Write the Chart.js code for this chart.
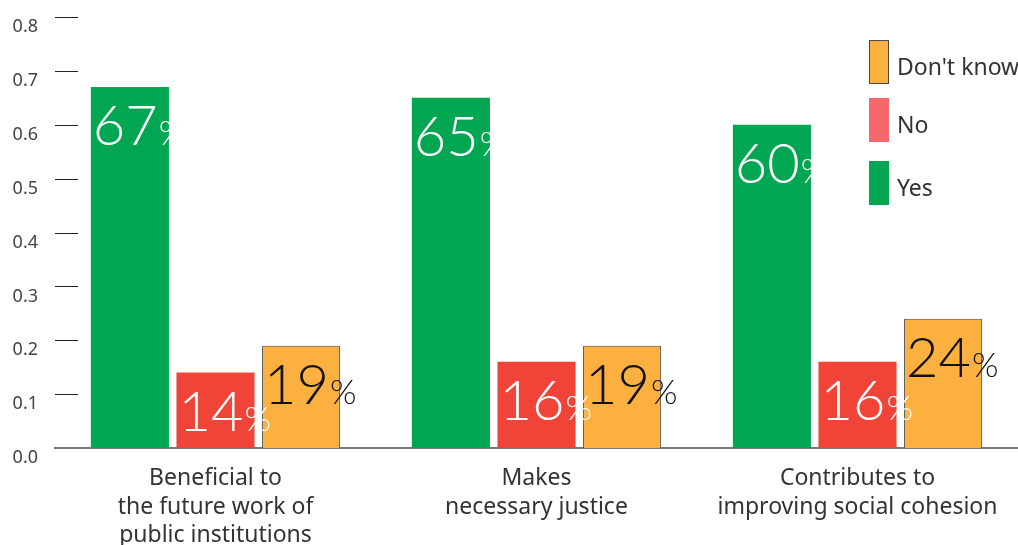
<!DOCTYPE html>
<html>
<head>
<meta charset="utf-8">
<title>Survey results</title>
<script src="https://cdn.jsdelivr.net/npm/chart.js@4.4.1/dist/chart.umd.min.js"></script>
<style>
  html, body { margin: 0; padding: 0; background: #fff; }
  #chart { display: block; }
</style>
</head>
<body>
<canvas id="chart" width="1018" height="545"></canvas>
<script>
// categories and answer shares
const categories = [
    ['Beneficial to', 'the future work of', 'public institutions'],
    ['Makes', 'necessary justice'],
    ['Contributes to', 'improving social cohesion']
];
const yesValues = [0.67, 0.65, 0.60];
const noValues = [0.14, 0.16, 0.16];
const dontKnowValues = [0.19, 0.19, 0.24];
const yTickValues = [0, 0.1, 0.2, 0.3, 0.4, 0.5, 0.6, 0.7, 0.8];

const FONT = '"Noto Sans", "DejaVu Sans", sans-serif';
const LIGHT_FONT = 'Lato, "Noto Sans", sans-serif';

// big percentage labels inside the top of each bar
const valueLabels = {
    id: 'valueLabels',
    afterDatasetsDraw(chart) {
        const ctx = chart.ctx;
        ctx.save();
        ctx.textBaseline = 'alphabetic';
        ctx.textAlign = 'left';
        chart.data.datasets.forEach((ds, i) => {
            const meta = chart.getDatasetMeta(i);
            meta.data.forEach((bar, j) => {
                const num = String(Math.round(ds.data[j] * 100));
                const left = bar.x - bar.width / 2 + 2;
                const baseY = bar.y + 58;
                ctx.fillStyle = ds.labelColor;
                ctx.font = '300 56px ' + LIGHT_FONT;
                ctx.fillText(num, left, baseY);
                const w = ctx.measureText(num).width;
                ctx.font = '300 34px ' + LIGHT_FONT;
                ctx.fillText('%', left + w + 1, baseY);
            });
        });
        ctx.restore();
    }
};

// short tick marks at the left of the plot area
const tickMarks = {
    id: 'tickMarks',
    afterDraw(chart) {
        const ctx = chart.ctx;
        const y = chart.scales.y;
        const left = chart.chartArea.left;
        ctx.save();
        ctx.strokeStyle = '#222';
        ctx.lineWidth = 1;
        yTickValues.slice(1).forEach(v => {
            const py = Math.round(y.getPixelForValue(v)) + 0.5;
            ctx.beginPath();
            ctx.moveTo(left, py);
            ctx.lineTo(left + 23, py);
            ctx.stroke();
        });
        ctx.restore();
    }
};

// vertical legend in the top right, listed in reverse order
const sideLegend = {
    id: 'sideLegend',
    afterDraw(chart) {
        const ctx = chart.ctx;
        const rows = [
            { ds: 2, top: 40 },
            { ds: 1, top: 98 },
            { ds: 0, top: 161 }
        ];
        ctx.save();
        rows.forEach(r => {
            const ds = chart.data.datasets[r.ds];
            ctx.fillStyle = ds.legendColor;
            ctx.fillRect(869, r.top, 20, 44);
            if (ds.borderWidth) {
                ctx.strokeStyle = ds.borderColor;
                ctx.lineWidth = 1;
                ctx.strokeRect(869.5, r.top + 0.5, 19, 43);
            }
            ctx.fillStyle = '#333';
            ctx.font = '23px ' + FONT;
            ctx.textBaseline = 'middle';
            ctx.fillText(ds.label, 897, r.top + 28);
        });
        ctx.restore();
    }
};

new Chart(document.getElementById('chart'), {
    type: 'bar',
    data: {
        labels: categories,
        datasets: [
            {
                label: 'Yes',
                data: yesValues,
                backgroundColor: '#00a651',
                legendColor: '#00a651',
                labelColor: '#ffffff',
                borderWidth: 0
            },
            {
                label: 'No',
                data: noValues,
                backgroundColor: '#f04438',
                legendColor: '#f2686b',
                labelColor: '#ffffff',
                borderWidth: 0
            },
            {
                label: "Don't know",
                data: dontKnowValues,
                backgroundColor: '#fbb040',
                legendColor: '#fbb040',
                borderColor: '#4a4a4a',
                borderWidth: 1,
                labelColor: '#111111'
            }
        ]
    },
    options: {
        responsive: false,
        animation: false,
        devicePixelRatio: 1,
        layout: { padding: { top: 17, left: 0, right: 0, bottom: 0 } },
        datasets: {
            bar: { categoryPercentage: 0.8, barPercentage: 0.912 }
        },
        plugins: {
            legend: { display: false },
            tooltip: { enabled: false }
        },
        scales: {
            x: {
                z: 1,
                grid: { display: false, drawTicks: false },
                border: { display: true, color: '#777', width: 2 },
                ticks: {
                    padding: 16,
                    color: '#333',
                    font: { family: FONT, size: 23, lineHeight: 1.25 },
                    maxRotation: 0,
                    autoSkip: false
                },
                afterFit(scale) {
                    scale.height = 97;
                    scale.paddingLeft = 0;
                    scale.paddingRight = 0;
                }
            },
            y: {
                min: 0,
                max: 0.8,
                grid: { display: false, drawTicks: false },
                border: { display: false },
                afterBuildTicks(scale) {
                    scale.ticks = yTickValues.map(v => ({ value: v }));
                },
                ticks: {
                    padding: 17,
                    labelOffset: 10,
                    color: '#444',
                    font: { family: FONT, size: 18 },
                    callback: v => Number(v).toFixed(1)
                },
                afterFit(scale) {
                    scale.width = 55;
                    scale.paddingTop = 0;
                    scale.paddingBottom = 0;
                }
            }
        }
    },
    plugins: [valueLabels, tickMarks, sideLegend]
});
</script>
</body>
</html>
